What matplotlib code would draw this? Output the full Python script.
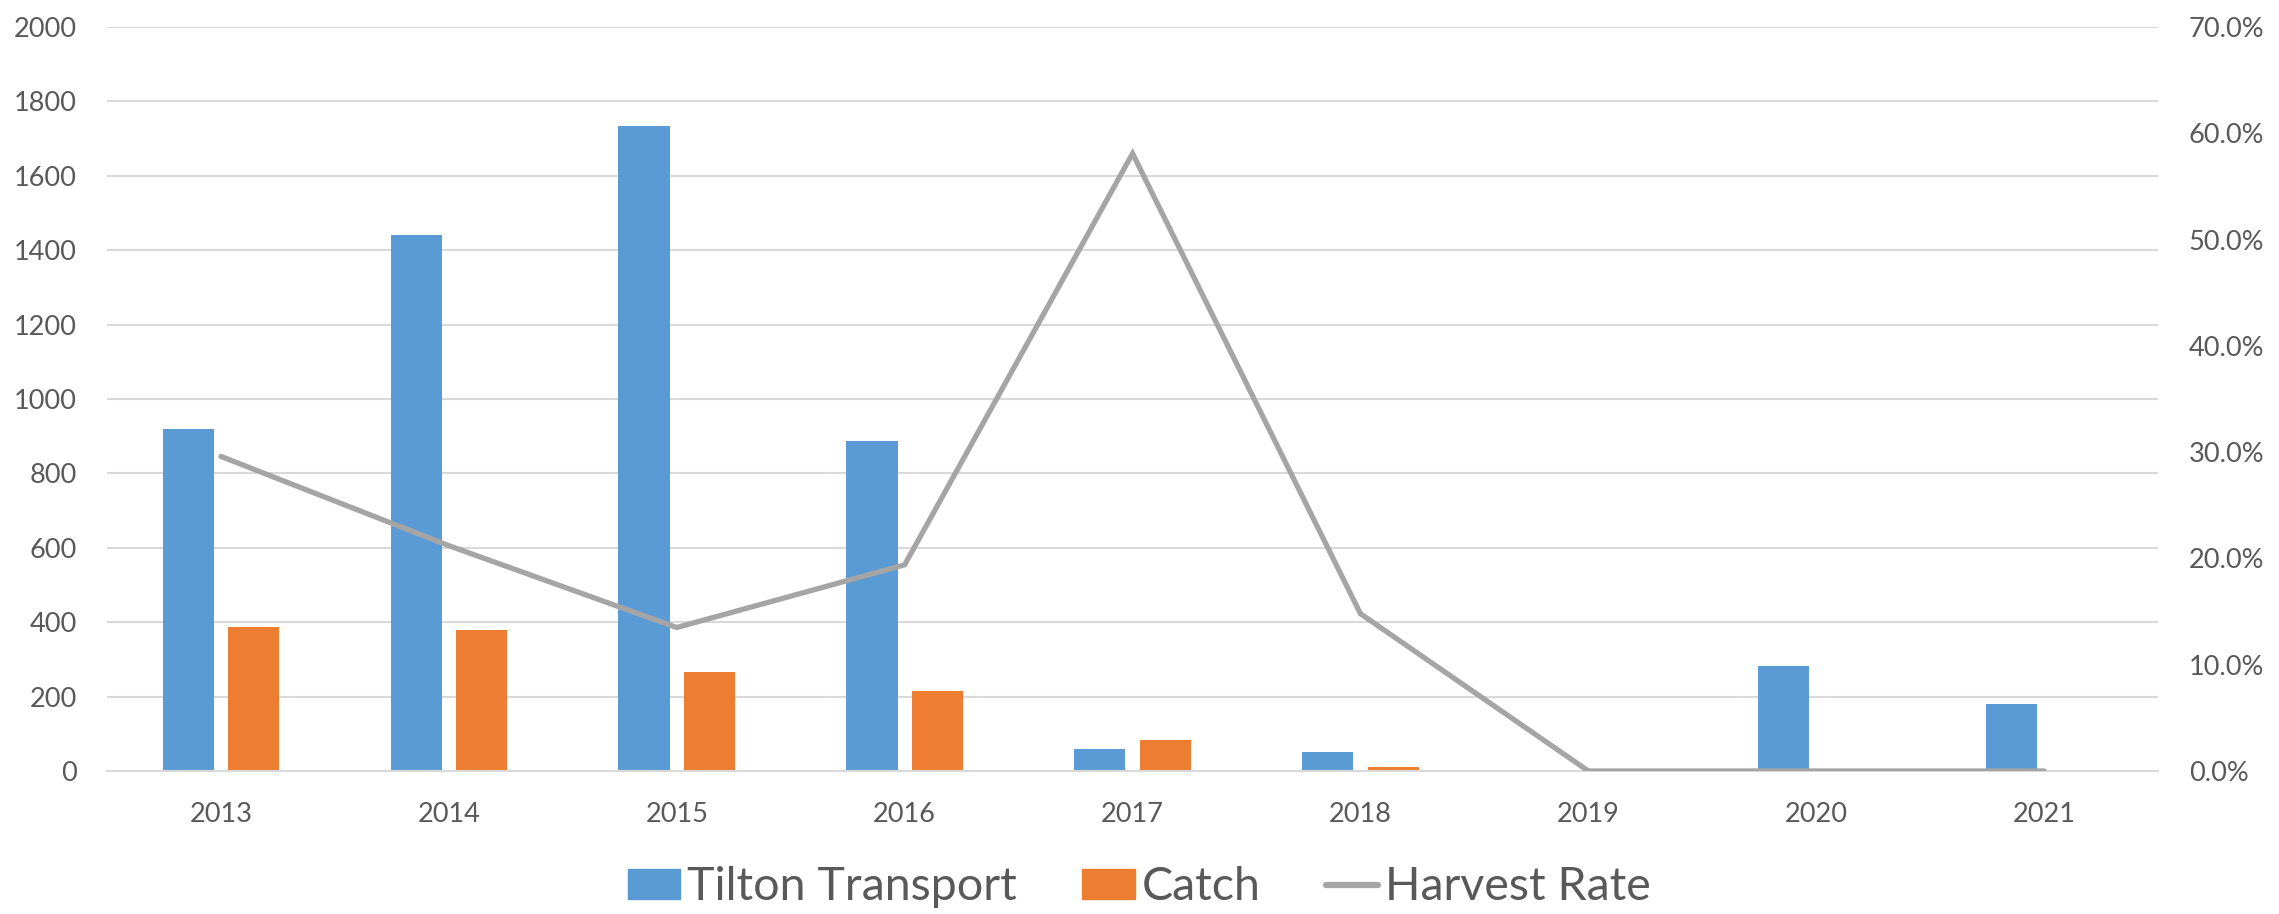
import matplotlib.pyplot as plt
import numpy as np
from matplotlib.patches import Patch
from matplotlib.lines import Line2D
from matplotlib.ticker import PercentFormatter

years = ["2013", "2014", "2015", "2016", "2017", "2018", "2019", "2020", "2021"]
tilton_transport = [920, 1440, 1733, 888, 59, 51, 0, 281, 179]
catch = [387, 380, 267, 214, 82, 10, 0, 0, 0]
harvest_rate = [29.6, 21.2, 13.5, 19.4, 58.1, 14.8, 0.0, 0.0, 0.0]  # percent

blue = "#5B9BD5"
orange = "#ED7D31"
gray = "#A5A5A5"
grid_col = "#D9D9D9"
text_col = "#595959"

plt.rcParams["font.family"] = ["Lato", "DejaVu Sans"]

fig = plt.figure(figsize=(22.79, 9.14), dpi=100)
ax = fig.add_axes([0.04695, 0.15646, 0.9, 0.814])

x = np.arange(len(years))
w = 0.225
off = w / 2 + 0.031
ax.bar(x - off, tilton_transport, w, color=blue, zorder=2)
ax.bar(x + off, catch, w, color=orange, zorder=2)

ax.set_xlim(-0.5, len(years) - 0.5)
ax.set_ylim(0, 2000)
ax.set_yticks(range(0, 2001, 200))
ax.set_xticks(x)
ax.set_xticklabels(years)
ax.yaxis.grid(True, color=grid_col, lw=1.5, zorder=0)
ax.set_axisbelow(True)
for s in ["top", "left", "right"]:
    ax.spines[s].set_visible(False)
ax.spines["bottom"].set_color(grid_col)
ax.spines["bottom"].set_linewidth(1.5)
ax.tick_params(axis="both", length=0, labelsize=19.5, colors=text_col)
ax.tick_params(axis="y", pad=21.5)
ax.tick_params(axis="x", pad=22)

ax2 = ax.twinx()
ax2.plot(x, harvest_rate, color=gray, lw=3.8, solid_capstyle="round",
         solid_joinstyle="miter", zorder=3)
ax2.set_ylim(0, 70)
ax2.set_yticks(range(0, 71, 10))
ax2.yaxis.set_major_formatter(PercentFormatter(decimals=1))
for s in ax2.spines.values():
    s.set_visible(False)
ax2.tick_params(axis="y", length=0, labelsize=19.5, colors=text_col, pad=22)

handles = [
    Patch(color=blue, label="Tilton Transport"),
    Patch(color=orange, label="Catch"),
    Line2D([0], [0], color=gray, lw=4.5, solid_capstyle="round", label="Harvest Rate"),
]
fig.legend(handles=handles, loc="center", bbox_to_anchor=(0.5, 0.029), ncol=3,
           frameon=False, fontsize=33.5, labelcolor=text_col, handlelength=1.13,
           handleheight=0.63, handletextpad=0.15, columnspacing=1.4,
           borderpad=0, borderaxespad=0)

fig.savefig("out.png", dpi=100)
